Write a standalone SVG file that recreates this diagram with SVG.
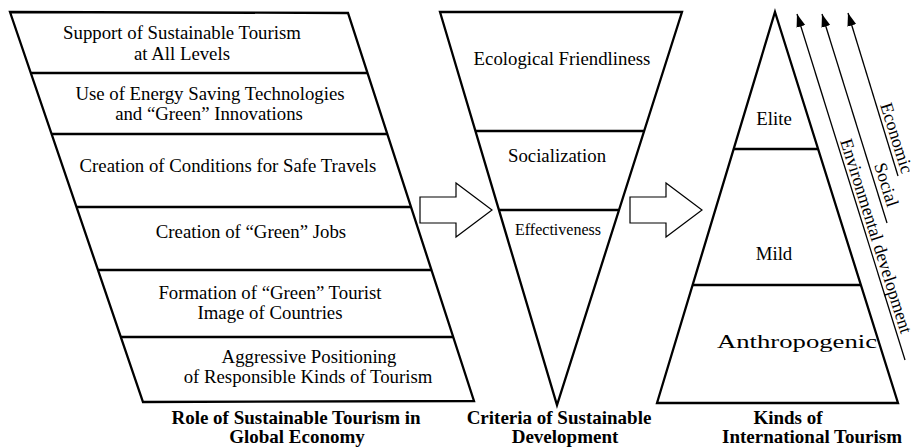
<svg xmlns="http://www.w3.org/2000/svg" width="911" height="447" viewBox="0 0 911 447">
<style>
.shape{fill:#fff;stroke:#000;stroke-width:2.3;stroke-linejoin:miter}
.div{stroke:#000;stroke-width:2.3;fill:none}
.blk{fill:#fff;stroke:#000;stroke-width:1.2}
.t{font-family:"Liberation Serif","Times New Roman",serif;font-size:18.8px;fill:#000;text-anchor:middle}
.s{font-size:16px}
.b{font-family:"Liberation Serif","Times New Roman",serif;font-size:19px;font-weight:bold;fill:#000;text-anchor:middle}
.r{font-family:"Liberation Serif","Times New Roman",serif;font-size:18px;fill:#000}
.ln{stroke:#000;stroke-width:1.3;fill:none;marker-end:url(#ah)}
</style>
<defs>
<marker id="ah" markerUnits="userSpaceOnUse" markerWidth="14" markerHeight="10" refX="13" refY="4.5" orient="auto">
<path d="M0,0 L13,4.5 L0,9 Z" fill="#000"/>
</marker>
</defs>
<rect width="911" height="447" fill="#fff"/>

<g id="role">
<polygon class="shape" points="10,12 348,13 474,401 143,402"/>
<line class="div" x1="30.8" y1="73" x2="367.5" y2="73"/>
<line class="div" x1="51.6" y1="134" x2="387.3" y2="134"/>
<line class="div" x1="76.5" y1="207" x2="411" y2="207"/>
<line class="div" x1="98" y1="270" x2="431.5" y2="270"/>
<line class="div" x1="120.8" y1="337" x2="453.3" y2="337"/>
<text class="t" x="182" y="39">Support of Sustainable Tourism</text>
<text class="t" x="182" y="60">at All Levels</text>
<text class="t" x="210" y="100">Use of Energy Saving Technologies</text>
<text class="t" x="209" y="120">and “Green” Innovations</text>
<text class="t" x="228" y="172">Creation of Conditions for Safe Travels</text>
<text class="t" x="251" y="238">Creation of “Green” Jobs</text>
<text class="t" x="270" y="299">Formation of “Green” Tourist</text>
<text class="t" x="270" y="319">Image of Countries</text>
<text class="t" x="309" y="363">Aggressive Positioning</text>
<text class="t" x="308" y="383">of Responsible Kinds of Tourism</text>
<text class="b" x="296" y="424">Role of Sustainable Tourism in</text>
<text class="b" x="297" y="443">Global Economy</text>
</g>

<g id="criteria">
<polygon class="shape" points="440,12 682,12 557,405"/>
<line class="div" x1="475.4" y1="131" x2="644" y2="131"/>
<line class="div" x1="499" y1="210" x2="619" y2="210"/>
<text class="t" x="562" y="65">Ecological Friendliness</text>
<text class="t" x="557" y="162">Socialization</text>
<text class="t s" x="558" y="235">Effectiveness</text>
<text class="b" x="559" y="424">Criteria of Sustainable</text>
<text class="b" x="565" y="443">Development</text>
</g>

<g id="kinds">
<polygon class="shape" points="775,12 898,403 657,403"/>
<line class="div" x1="733.7" y1="149" x2="818" y2="149"/>
<line class="div" x1="692.6" y1="285" x2="861" y2="285"/>
<text class="t" x="774" y="125">Elite</text>
<text class="t" x="774" y="260">Mild</text>
<text class="t" transform="translate(797,348) scale(1.42,1)" x="0" y="0">Anthropogenic</text>
<text class="b" x="788" y="424">Kinds of</text>
<text class="b" x="812" y="443">International Tourism</text>
</g>

<g id="connectors">
<polygon class="blk" points="420,197 456,197 456,183 492,210 456,237 456,223 420,223"/>
<polygon class="blk" points="630,197 666,197 666,183 702,210 666,237 666,223 630,223"/>
<line class="ln" x1="905" y1="360" x2="797" y2="14"/>
<line class="ln" x1="887" y1="223" x2="822" y2="14"/>
<line class="ln" x1="898" y1="176" x2="848" y2="13"/>
</g>

<g id="labels">
<text class="r" transform="translate(880,105) rotate(72.5)">Economic</text>
<text class="r" transform="translate(874,165) rotate(72.5)">Social</text>
<text class="r" transform="translate(840,141) rotate(72.5)" textLength="203" lengthAdjust="spacing">Environmental development</text>
</g>
</svg>
